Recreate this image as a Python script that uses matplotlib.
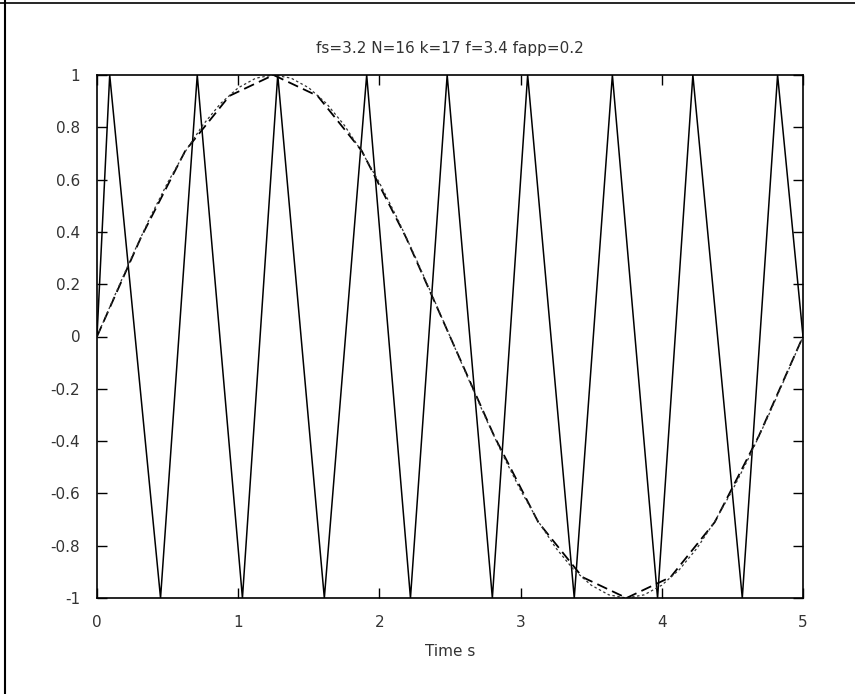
import matplotlib
matplotlib.use("Agg")
import matplotlib.pyplot as plt
from matplotlib.lines import Line2D

# Sampled signal: f = 3.4 Hz sampled at fs = 3.2 Hz, N = 16 intervals over 5 s
sample_t = [0.0, 0.3125, 0.625, 0.9375, 1.25, 1.5625, 1.875, 2.1875, 2.5,
            2.8125, 3.125, 3.4375, 3.75, 4.0625, 4.375, 4.6875, 5.0]
sample_v = [0.0, 0.38, 0.71, 0.92, 1.0, 0.92, 0.71, 0.38, 0.0,
            -0.38, -0.71, -0.92, -1.0, -0.92, -0.71, -0.38, 0.0]

# Apparent (alias) sine at 0.2 Hz
alias_t = [0.125 * k for k in range(41)]
alias_v = [0.0, 0.156, 0.309, 0.454, 0.588, 0.707, 0.809, 0.891, 0.951, 0.988,
           1.0, 0.988, 0.951, 0.891, 0.809, 0.707, 0.588, 0.454, 0.309, 0.156,
           0.0, -0.156, -0.309, -0.454, -0.588, -0.707, -0.809, -0.891, -0.951,
           -0.988, -1.0, -0.988, -0.951, -0.891, -0.809, -0.707, -0.588, -0.454,
           -0.309, -0.156, 0.0]

# Original fast signal as drawn (turning points)
fast_t = [0.0, 0.09, 0.45, 0.71, 1.03, 1.28, 1.61, 1.91, 2.22, 2.48, 2.80,
          3.05, 3.38, 3.65, 3.97, 4.22, 4.57, 4.82, 5.0]
fast_v = [0.0, 1, -1, 1, -1, 1, -1, 1, -1, 1, -1, 1, -1, 1, -1, 1, -1, 1, 0.0]

x_ticks = [0, 1, 2, 3, 4, 5]
y_ticks = [-1, -0.8, -0.6, -0.4, -0.2, 0, 0.2, 0.4, 0.6, 0.8, 1]
y_labels = ["-1", "-0.8", "-0.6", "-0.4", "-0.2", "0", "0.2", "0.4", "0.6", "0.8", "1"]

title_text = "fs=3.2 N=16 k=17 f=3.4 fapp=0.2"
x_label = "Time s"

fig = plt.figure(figsize=(8.55, 6.94), dpi=100)
fig.patch.set_facecolor("white")
ax = fig.add_axes([97 / 855, 1 - 598 / 694, 706 / 855, 523 / 694])

ax.plot(fast_t, fast_v, color="black", lw=1.1, solid_joinstyle="miter")
ax.plot(sample_t, sample_v, color="black", lw=1.3, ls=(0, (6, 3)))
ax.plot(alias_t, alias_v, color="#333333", lw=0.9, ls=(0, (2, 2)))

ax.set_xlim(0, 5)
ax.set_ylim(-1, 1)
ax.set_xticks(x_ticks)
ax.set_xticklabels([str(v) for v in x_ticks])
ax.set_yticks(y_ticks)
ax.set_yticklabels(y_labels)

ax.tick_params(direction="in", length=7, width=1, top=True, right=True,
               labelsize=11, labelcolor="#333333", pad=12)
for s in ax.spines.values():
    s.set_linewidth(1.2)
    s.set_color("black")

ax.set_title(title_text, fontsize=11, color="#333333", pad=16)
ax.set_xlabel(x_label, fontsize=11, color="#333333", labelpad=10)

# page border of the printed sheet
fig.add_artist(Line2D([5 / 855, 5 / 855], [0.0, 1.0], color="black", lw=1.5,
                      transform=fig.transFigure))
fig.add_artist(Line2D([0.0, 1.0], [1 - 3 / 694, 1 - 3 / 694], color="black", lw=1.2,
                      transform=fig.transFigure))

fig.savefig("out.png", dpi=100, facecolor="white")
